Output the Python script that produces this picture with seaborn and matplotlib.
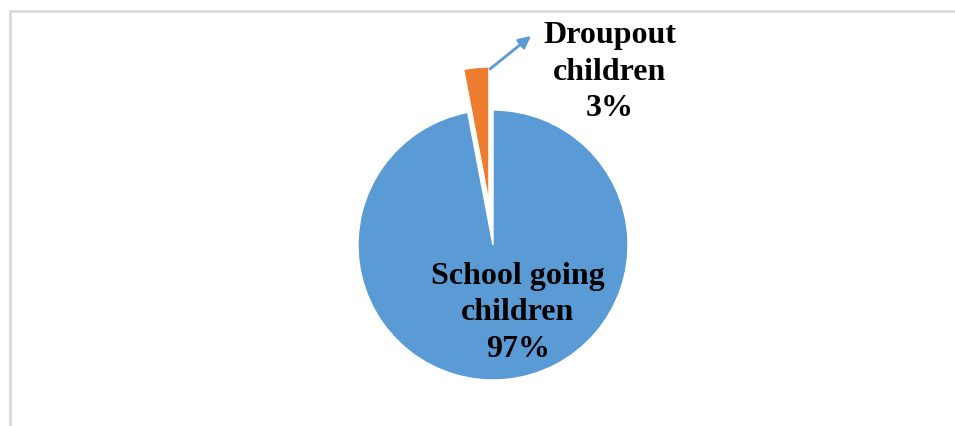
import matplotlib
matplotlib.use("Agg")
import matplotlib.pyplot as plt
from matplotlib.lines import Line2D
import seaborn as sns

# Data
categories = ["School going children", "Droupout children"]
shares = [97, 3]
colors = ["#5B9BD5", "#ED7D31"]
explode = [0.0, 0.32]

sns.set_theme(style="white")
plt.rcParams["font.family"] = ["Liberation Serif", "DejaVu Serif"]

W, H, DPI = 955, 426, 100
fig = plt.figure(figsize=(W / DPI, H / DPI), dpi=DPI)
ax = fig.add_axes([0, 0, 1, 1])

# pie centre and radius in pixels
cx, cy, r = 493, 245, 135
ax.pie(shares, colors=colors, explode=explode, startangle=90, counterclock=False,
       radius=1.0, center=(0, 0),
       wedgeprops=dict(edgecolor="white", linewidth=1.0))
ax.set_xlim(-cx / r, (W - cx) / r)
ax.set_ylim(-(H - cy) / r, cy / r)
ax.set_aspect("auto")
ax.axis("off")


def to_data(px, py):
    return (px - cx) / r, (cy - py) / r


# data labels: category split over two lines, then the share
label_text = [f"{c.rsplit(' ', 1)[0]}\n{c.rsplit(' ', 1)[1]}\n{v}%"
              for c, v in zip(categories, shares)]
text_kw = dict(ha="center", va="center", fontsize=23, fontweight="bold",
               color="black", linespacing=1.33)
ax.text(*to_data(518, 313), label_text[0], **text_kw)
ax.text(*to_data(610, 72), label_text[1], **text_kw)

# leader arrow to the dropout label
ax.annotate("", xy=to_data(531, 36), xytext=to_data(490, 69),
            arrowprops=dict(arrowstyle="-|>", color="#5B9BD5", lw=2,
                            mutation_scale=18, shrinkA=0, shrinkB=0))

# chart area frame (top and left edges)
frame_kw = dict(color="#D9D9D9", linewidth=2, transform=fig.transFigure)
fig.add_artist(Line2D([10 / W, 1], [1 - 11 / H, 1 - 11 / H], **frame_kw))
fig.add_artist(Line2D([10 / W, 10 / W], [0, 1 - 11 / H], **frame_kw))

fig.savefig("out.png", dpi=DPI)
